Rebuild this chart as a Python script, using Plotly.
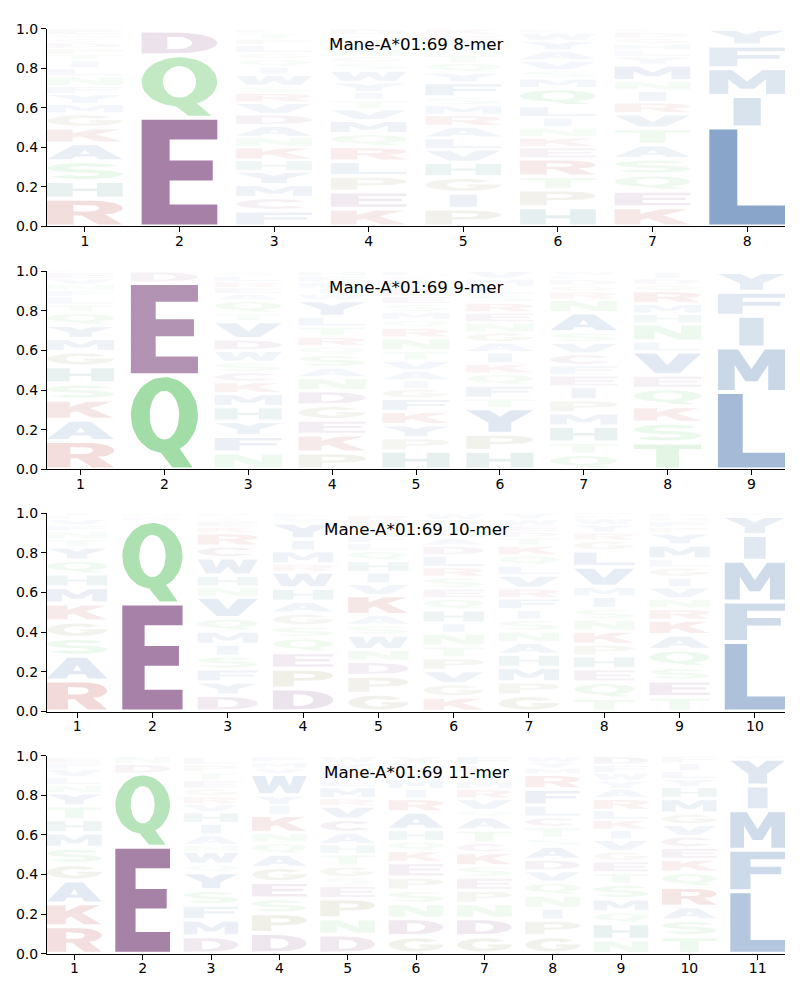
import math
import plotly.graph_objects as go

FONT = "DejaVu Sans"

titles = ["Mane-A*01:69 8-mer", "Mane-A*01:69 9-mer",
          "Mane-A*01:69 10-mer", "Mane-A*01:69 11-mer"]

# ---- letters per position (bottom -> top) and their heights (probabilities)
letters_8mer = ["RHSAKGMYFNLITPDCWE", "EQDN", "FCMYHKNADVRSWIQGLPTE",
                "KEPLRQMVTIYWSGNAHFD", "PIGHVLARMSFYQTNWEK", "HPTREKNILQMSVAYWF",
                "KEQSATVRINMYLHGDF", "LIMFY"]
heights_8mer = [
    [.14, .09, .10, .09, .08, .07, .05, .05, .04, .05, .04, .04, .03, .03, .03, .02, .02, .03],
    [.55, .315, .125, .01],
    [.08, .066, .066, .066, .058, .066, .05, .058, .058, .058, .05, .033, .058, .04, .04, .03, .04, .03, .03, .02],
    [.09, .086, .08, .074, .074, .066, .066, .058, .045, .04, .05, .06, .04, .03, .04, .03, .02, .02, .03],
    [.09, .08, .08, .074, .066, .058, .058, .058, .05, .04, .074, .05, .05, .04, .04, .03, .03, .03],
    [.097, .09, .066, .09, .058, .05, .05, .05, .058, .09, .05, .04, .05, .05, .05, .04, .02],
    [.097, .083, .083, .08, .07, .083, .074, .058, .058, .05, .083, .04, .033, .03, .03, .03, .02],
    [.50, .16, .14, .115, .085],
]

letters_9mer = ["RAKSHGMYQTLFNVED", "QED", "NFYHMKCSWDVTQAERLG", "PKEGDNASQRTLYWIMFH",
                "HPYKFGIAVTNRQMSEDWCL", "HPYTFQKIAGNERSLMV", "QTHMPIEFCVSANRGDLW",
                "TSKQEVLNHMRGDI", "LMIFY"]
heights_9mer = [
    [.144, .107, .1, .083, .086, .074, .066, .066, .066, .04, .04, .03, .03, .03, .03, .01],
    [.475, .465, .06],
    [.086, .083, .074, .074, .066, .058, .05, .05, .058, .058, .09, .04, .066, .033, .03, .03, .03, .02],
    [.086, .09, .074, .074, .074, .066, .05, .066, .04, .05, .05, .05, .083, .03, .03, .03, .03, .025],
    [.094, .066, .066, .066, .066, .05, .04, .05, .05, .05, .066, .05, .04, .04, .04, .04, .04, .04, .02, .026],
    [.094, .086, .129, .05, .066, .058, .05, .058, .05, .05, .05, .05, .05, .04, .04, .04, .04],
    [.078, .058, .083, .066, .066, .066, .058, .05, .058, .058, .05, .1, .066, .04, .03, .03, .02, .024],
    [.136, .1, .083, .09, .066, .12, .05, .09, .05, .05, .066, .03, .03, .036],
    [.39, .225, .16, .12, .10],
]

letters_10mer = ["RASGKMHQYTNFVLI", "EQDN", "DYFSIMQVNHWCRKETP", "DPEQSGAHWRMIYVF",
                 "GPDNWSAKVIHQLFYER", "KGVPTNIHQESRLDAMYFW", "GPMHANSIFRVLQKTDEWY",
                 "TQEHPKNSIMVLGRYWFD", "TESQAKRNVIGLMYPFHD", "LFMIYW"]
heights_10mer = [
    [.157, .124, .09, .083, .09, .083, .066, .07, .066, .04, .04, .03, .03, .017, .014],
    [.545, .415, .02, .02],
    [.083, .066, .066, .066, .058, .066, .066, .107, .05, .058, .09, .058, .066, .03, .03, .02, .02],
    [.116, .1, .083, .074, .058, .066, .058, .066, .083, .04, .066, .058, .083, .025, .025],
    [.09, .09, .074, .058, .074, .05, .05, .1, .058, .058, .058, .05, .04, .04, .04, .03, .03],
    [.074, .066, .066, .066, .058, .066, .05, .066, .058, .05, .058, .05, .058, .05, .04, .03, .03, .03, .034],
    [.083, .066, .074, .066, .058, .058, .058, .05, .058, .05, .066, .05, .05, .05, .04, .03, .03, .03, .034],
    [.066, .083, .066, .066, .058, .066, .058, .058, .058, .05, .1, .083, .05, .04, .04, .03, .02, .024],
    [.074, .083, .066, .09, .074, .074, .058, .05, .058, .05, .05, .04, .074, .058, .03, .03, .02, .02],
    [.35, .205, .205, .13, .095, .015],
]

letters_11mer = ["RKAGSMHTYNLVFEI", "EQDN", "DMFSYQWNAIHVRGETPL", "DPSEGAQNKIYWVMF",
                 "DNPESGTHACVRMLFYW", "GDNSPEKQHARIMVLY", "GDNPESKCTAQVRMILF",
                 "GPINQVDASTCLFRMYW", "NHQMSTEGVIKLRAYWFD", "TSARQKECVGMHYLIF", "LFMIYW"]
heights_11mer = [
    [.138, .116, .116, .083, .083, .075, .066, .07, .066, .04, .04, .04, .03, .03, .007],
    [.54, .37, .05, .04],
    [.088, .083, .075, .075, .09, .04, .066, .033, .05, .058, .058, .04, .04, .04, .04, .04, .04, .037],
    [.104, .1, .075, .083, .075, .066, .058, .05, .09, .05, .05, .107, .03, .03, .03],
    [.096, .083, .1, .066, .04, .058, .06, .05, .06, .066, .066, .04, .058, .04, .04, .04, .036],
    [.088, .091, .075, .066, .066, .075, .058, .05, .058, .09, .066, .05, .05, .04, .04, .036],
    [.088, .091, .075, .066, .066, .058, .066, .05, .066, .066, .033, .058, .05, .04, .04, .04, .046],
    [.088, .083, .058, .066, .066, .058, .058, .066, .04, .058, .05, .058, .083, .075, .03, .03, .03],
    [.07, .083, .058, .066, .075, .058, .058, .05, .058, .05, .05, .05, .058, .05, .04, .04, .04, .046],
    [.088, .083, .066, .1, .075, .066, .058, .058, .058, .058, .075, .058, .04, .04, .04, .037],
    [.315, .21, .2, .125, .135, .015],
]

panels = [(letters_8mer, heights_8mer), (letters_9mer, heights_9mer),
          (letters_10mer, heights_10mer), (letters_11mer, heights_11mer)]

# ---- colour scheme (opacity of each letter = its height)
BLUE, GREEN, PURPLE = (20, 78, 149), (60, 182, 67), (93, 24, 93)
RED, TEAL, OLIVE = (170, 20, 20), (0, 90, 90), (110, 105, 40)
COLOR = {}
for c in "AVLIMFWY":
    COLOR[c] = BLUE
for c in "STNQ":
    COLOR[c] = GREEN
for c in "DEC":
    COLOR[c] = PURPLE
for c in "KR":
    COLOR[c] = RED
COLOR["H"] = TEAL
for c in "GP":
    COLOR[c] = OLIVE


# ---- glyph outlines in a unit box (style only)
def arc(cx, cy, rx, ry, a0, a1, n=24):
    pts = []
    for i in range(n + 1):
        a = math.radians(a0 + (a1 - a0) * i / n)
        pts.append((cx + rx * math.cos(a), cy + ry * math.sin(a)))
    return pts


def area(r):
    s = 0.0
    for i in range(len(r)):
        x1, y1 = r[i]
        x2, y2 = r[(i + 1) % len(r)]
        s += x1 * y2 - x2 * y1
    return s / 2


def orient(r, hole):
    a = area(r)
    if (a > 0) == hole:
        return list(reversed(r))
    return r


GLYPHS = {
    "E": [[(0, 0), (1, 0), (1, .19), (.37, .19), (.37, .42), (.94, .42), (.94, .61), (.37, .61),
           (.37, .81), (1, .81), (1, 1), (0, 1)]],
    "F": [[(0, 0), (.37, 0), (.37, .4), (.93, .4), (.93, .6), (.37, .6), (.37, .8), (1, .8), (1, 1), (0, 1)]],
    "H": [[(0, 0), (.34, 0), (.34, .41), (.66, .41), (.66, 0), (1, 0), (1, 1), (.66, 1), (.66, .6),
           (.34, .6), (.34, 1), (0, 1)]],
    "I": [[(.32, 0), (.68, 0), (.68, 1), (.32, 1)]],
    "K": [[(0, 0), (.34, 0), (.34, .3), (.44, .41), (.68, 0), (1, 0), (.64, .6), (.97, 1), (.6, 1),
           (.34, .68), (.34, 1), (0, 1)]],
    "L": [[(0, 0), (1, 0), (1, .2), (.37, .2), (.37, 1), (0, 1)]],
    "M": [[(0, 0), (.25, 0), (.25, .62), (.41, .22), (.59, .22), (.75, .62), (.75, 0), (1, 0), (1, 1),
           (.7, 1), (.5, .52), (.3, 1), (0, 1)]],
    "N": [[(0, 0), (.3, 0), (.3, .58), (.66, 0), (1, 0), (1, 1), (.7, 1), (.7, .42), (.34, 1), (0, 1)]],
    "T": [[(.33, 0), (.67, 0), (.67, .8), (1, .8), (1, 1), (0, 1), (0, .8), (.33, .8)]],
    "V": [[(.32, 0), (.68, 0), (1, 1), (.67, 1), (.5, .4), (.33, 1), (0, 1)]],
    "W": [[(.14, 0), (.38, 0), (.5, .5), (.62, 0), (.86, 0), (1, 1), (.76, 1), (.69, .42), (.6, 1),
           (.4, 1), (.31, .42), (.24, 1), (0, 1)]],
    "Y": [[(.33, 0), (.67, 0), (.67, .42), (1, 1), (.66, 1), (.5, .7), (.34, 1), (0, 1), (.33, .42)]],
}
HOLES = {
    "A": ([(0, 0), (.31, 0), (.37, .2), (.63, .2), (.69, 0), (1, 0), (.66, 1), (.34, 1)],
          [(.43, .37), (.57, .37), (.5, .66)]),
    "D": ([(0, 0), (.45, 0)] + arc(.45, .5, .55, .5, -90, 90) + [(.45, 1), (0, 1)],
          [(.34, .2), (.45, .2)] + arc(.45, .5, .22, .3, -90, 90) + [(.45, .8), (.34, .8)]),
    "P": ([(0, 0), (.35, 0), (.35, .36), (.6, .36)] + arc(.6, .68, .4, .32, -90, 90) + [(.6, 1), (0, 1)],
          [(.35, .54), (.55, .54)] + arc(.55, .68, .15, .14, -90, 90) + [(.55, .82), (.35, .82)]),
    "R": ([(0, 0), (.35, 0), (.35, .38), (.46, .38), (.68, 0), (1, 0), (.76, .44)] +
          arc(.6, .69, .4, .31, -55, 90) + [(.6, 1), (0, 1)],
          [(.35, .55), (.55, .55)] + arc(.55, .69, .14, .14, -90, 90) + [(.55, .83), (.35, .83)]),
}


def glyph(ch):
    rings = []
    if ch in GLYPHS:
        for r in GLYPHS[ch]:
            rings.append(orient(r, False))
    elif ch in HOLES:
        o, h = HOLES[ch]
        rings.append(orient(o, False))
        rings.append(orient(h, True))
    elif ch == "Q":
        rings.append(orient(arc(.5, .58, .5, .42, 0, 360, 48), False))
        rings.append(orient(arc(.5, .58, .22, .27, 0, 360, 48), True))
        rings.append(orient([(.45, .16), (.62, 0), (.92, 0), (.72, .22)], False))
    elif ch == "C":
        r = arc(.5, .5, .5, .5, 35, 325) + arc(.5, .5, .22, .28, 325, 35)
        rings.append(orient(r, False))
    elif ch == "G":
        r = (arc(.5, .5, .5, .5, 40, 360) + [(1, .53), (.56, .53), (.56, .37), (.72, .37)] +
             arc(.5, .5, .22, .28, 320, 40))
        rings.append(orient(r, False))
    elif ch == "S":
        up = arc(.5, .7, .5, .3, 25, 270) + arc(.5, .7, .2, .12, 270, 25)
        lo = arc(.5, .3, .5, .3, 90, -155) + arc(.5, .3, .2, .12, -155, 90)
        rings.append(orient(up, False))
        rings.append(orient(lo, False))
    return rings


DOM_X = [47 / 800, 785 / 800]
DOM_Y = [[0.778, 0.979], [0.531, 0.7327], [0.285, 0.4867], [0.039, 0.240]]

fig = go.Figure()
for p, (letters, heights) in enumerate(panels):
    ax = "" if p == 0 else str(p + 1)
    for i, (seq, hs) in enumerate(zip(letters, heights)):
        xc = i + 1
        y0 = 0.0
        for ch, h in zip(seq, hs):
            pad = min(0.01, 0.12 * h)
            yb, yt = y0 + pad, y0 + h - pad
            xs, ys = [], []
            for ring in glyph(ch):
                for gx, gy in ring:
                    xs.append(xc - 0.4 + 0.8 * gx)
                    ys.append(yb + (yt - yb) * gy)
                xs.append(xs[-len(ring)])
                ys.append(ys[-len(ring) - 0])
                xs.append(None)
                ys.append(None)
            r, g, b = COLOR[ch]
            alpha = max(0.0, min(1.0, h))
            fig.add_trace(go.Scatter(
                x=xs, y=ys, mode="lines", fill="toself",
                fillcolor=f"rgba({r},{g},{b},{alpha:.3f})",
                line=dict(width=0, color=f"rgba({r},{g},{b},0)"),
                hoverinfo="skip", showlegend=False,
                xaxis="x" + ax, yaxis="y" + ax))
            y0 += h

    n = len(letters)
    axis_style = dict(showline=True, linecolor="black", linewidth=1, ticks="outside",
                      ticklen=5, tickwidth=1, tickcolor="black", showgrid=False,
                      zeroline=False, tickfont=dict(family=FONT, size=14, color="black"))
    fig.update_layout(**{
        "xaxis" + ax: dict(domain=DOM_X, range=[0.6, n + 0.4], tickvals=list(range(1, n + 1)),
                           anchor="y" + ax, ticklabelstandoff=-3, **axis_style),
        "yaxis" + ax: dict(domain=DOM_Y[p], range=[0, 1], tickvals=[0, .2, .4, .6, .8, 1.0],
                           ticktext=["0.0", "0.2", "0.4", "0.6", "0.8", "1.0"],
                           anchor="x" + ax, **axis_style),
    })
    fig.add_annotation(text=titles[p], xref=f"x{ax} domain", yref=f"y{ax} domain",
                       x=0.5, y=0.92, xanchor="center", yanchor="middle", showarrow=False,
                       font=dict(family=FONT, size=16.7, color="black"))

fig.update_layout(width=800, height=1000, margin=dict(l=0, r=0, t=0, b=0),
                  paper_bgcolor="white", plot_bgcolor="white")
fig.write_html("out.html")
